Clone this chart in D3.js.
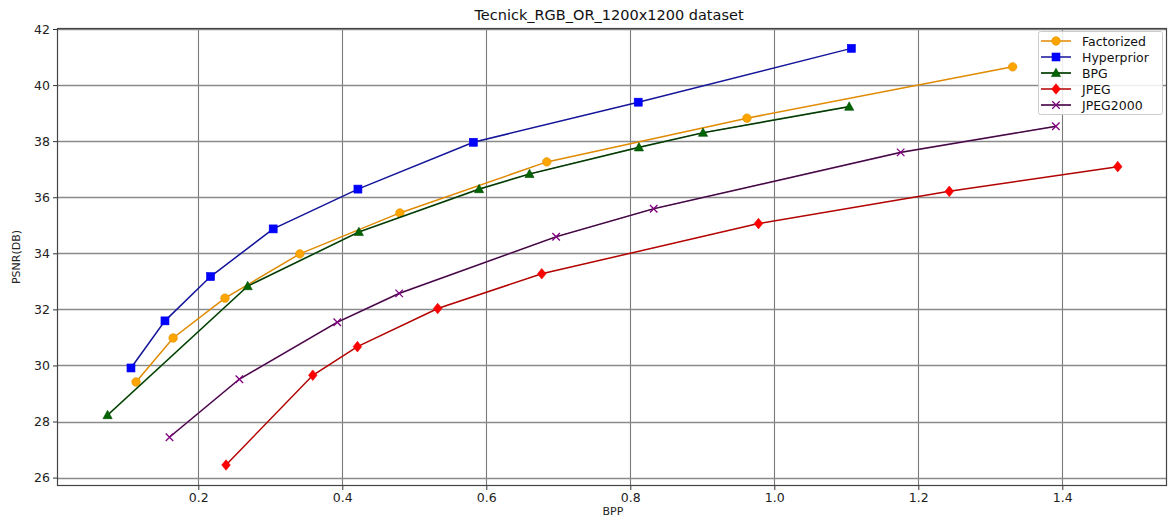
<!DOCTYPE html>
<html>
<head>
<meta charset="utf-8">
<script src="https://cdn.jsdelivr.net/npm/d3@7"></script>
<style>
  html, body { margin: 0; padding: 0; background: #fff; }
  svg { display: block; font-family: "DejaVu Sans", sans-serif; }
</style>
</head>
<body>
<svg id="chart" width="1169" height="518"></svg>
<script>
// Rate–distortion results on Tecnick (bits per pixel vs PSNR)
const factorizedBpp  = [0.1135, 0.165, 0.237, 0.341, 0.480, 0.684, 0.962, 1.331];
const factorizedPsnr = [29.41, 30.98, 32.40, 33.98, 35.44, 37.26, 38.82, 40.65];

const hyperpriorBpp  = [0.1065, 0.1537, 0.217, 0.304, 0.4217, 0.582, 0.811, 1.107];
const hyperpriorPsnr = [29.91, 31.59, 33.17, 34.87, 36.29, 37.96, 39.39, 41.31];

const bpgBpp  = [0.074, 0.2686, 0.423, 0.590, 0.660, 0.812, 0.901, 1.104];
const bpgPsnr = [28.23, 32.83, 34.76, 36.29, 36.83, 37.78, 38.30, 39.23];

const jpegBpp  = [0.2385, 0.359, 0.421, 0.5325, 0.677, 0.978, 1.243, 1.477];
const jpegPsnr = [26.45, 29.65, 30.67, 32.03, 33.27, 35.06, 36.21, 37.09];

const jpeg2000Bpp  = [0.160, 0.257, 0.393, 0.479, 0.697, 0.8325, 1.1755, 1.391];
const jpeg2000Psnr = [27.44, 29.51, 31.54, 32.57, 34.59, 35.59, 37.60, 38.53];

const xTicks = [0.2, 0.4, 0.6, 0.8, 1.0, 1.2, 1.4];
const yTicks = [26, 28, 30, 32, 34, 36, 38, 40, 42];

const series = [
  { name: "Factorized", x: factorizedBpp, y: factorizedPsnr, line: "#e08a00", under: null, marker: "circle", fill: "#ffa500", edge: "#e69500" },
  { name: "Hyperprior", x: hyperpriorBpp, y: hyperpriorPsnr, line: "#14149a", under: null, marker: "square", fill: "#0000ff", edge: "#0000ee" },
  { name: "BPG", x: bpgBpp, y: bpgPsnr, line: "#0a1a0a", under: "#1f7a1f", marker: "triangle", fill: "#006400", edge: "#004d00" },
  { name: "JPEG", x: jpegBpp, y: jpegPsnr, line: "#b30000", under: null, marker: "diamond", fill: "#ff0000", edge: "#ee0000" },
  { name: "JPEG2000", x: jpeg2000Bpp, y: jpeg2000Psnr, line: "#1a061a", under: "#9a3a9a", marker: "x", fill: "none", edge: "#800080" }
];

const svg = d3.select("#chart");
const L = 57, R = 1167, T = 28, B = 486;

const x = d3.scaleLinear().domain([0.00375, 1.5454]).range([L, R]);
const y = d3.scaleLinear().domain([25.70, 42.036]).range([B, T]);

// title
svg.append("text")
  .attr("x", (L + R) / 2 - 3).attr("y", 20)
  .attr("text-anchor", "middle")
  .attr("font-size", 14.5).attr("fill", "#111")
  .text("Tecnick_RGB_OR_1200x1200 dataset");

// grid
const grid = svg.append("g");
grid.selectAll("line.vx").data(xTicks).join("line")
  .attr("x1", d => Math.round(x(d)) + 0.5).attr("x2", d => Math.round(x(d)) + 0.5)
  .attr("y1", T).attr("y2", B)
  .attr("stroke", "#7a7a7a").attr("stroke-width", 1.1);
grid.selectAll("line.hy").data(yTicks).join("line")
  .attr("y1", d => Math.round(y(d)) + 0.5).attr("y2", d => Math.round(y(d)) + 0.5)
  .attr("x1", L).attr("x2", R)
  .attr("stroke", "#8a8a8a").attr("stroke-width", 1.3);

// axes
const xAxis = d3.axisBottom(x).tickValues(xTicks).tickFormat(d3.format(".1f")).tickSize(4).tickPadding(3);
const yAxis = d3.axisLeft(y).tickValues(yTicks).tickFormat(d3.format("d")).tickSize(4).tickPadding(3);

const gx = svg.append("g").attr("transform", `translate(0,${B})`).call(xAxis);
const gy = svg.append("g").attr("transform", `translate(${L},0)`).call(yAxis);
[gx, gy].forEach(g => {
  g.select(".domain").remove();
  g.selectAll("line").attr("stroke", "#333");
  g.selectAll("text").attr("font-size", 12.5).attr("fill", "#222")
    .attr("font-family", "DejaVu Sans, sans-serif");
});

// frame
svg.append("rect")
  .attr("x", L + 0.5).attr("y", T + 0.5)
  .attr("width", R - L - 1).attr("height", B - T - 1)
  .attr("fill", "none").attr("stroke", "#444").attr("stroke-width", 1.2);

// axis labels
svg.append("text")
  .attr("x", 613).attr("y", 515)
  .attr("text-anchor", "middle").attr("font-size", 11).attr("fill", "#222")
  .text("BPP");
svg.append("text")
  .attr("transform", `translate(20,${(T + B) / 2}) rotate(-90)`)
  .attr("text-anchor", "middle").attr("font-size", 11).attr("fill", "#222")
  .text("PSNR(DB)");

function drawMarker(g, kind, cx, cy, s) {
  const size = 7.5;
  if (kind === "circle") {
    g.append("circle").attr("cx", cx).attr("cy", cy).attr("r", 4.2)
      .attr("fill", s.fill).attr("stroke", s.edge).attr("stroke-width", 0.8);
  } else if (kind === "square") {
    g.append("rect").attr("x", cx - 4).attr("y", cy - 4).attr("width", 8).attr("height", 8)
      .attr("fill", s.fill).attr("stroke", s.edge).attr("stroke-width", 0.6);
  } else if (kind === "triangle") {
    g.append("path").attr("d", `M${cx},${cy - 4.8}L${cx + 4.6},${cy + 3.6}L${cx - 4.6},${cy + 3.6}Z`)
      .attr("fill", s.fill).attr("stroke", s.edge).attr("stroke-width", 0.6);
  } else if (kind === "diamond") {
    g.append("path").attr("d", `M${cx},${cy - 5.3}L${cx + 4.3},${cy}L${cx},${cy + 5.3}L${cx - 4.3},${cy}Z`)
      .attr("fill", s.fill).attr("stroke", s.edge).attr("stroke-width", 0.6);
  } else if (kind === "x") {
    const h = size / 2;
    g.append("path").attr("d", `M${cx - h},${cy - h}L${cx + h},${cy + h}M${cx - h},${cy + h}L${cx + h},${cy - h}`)
      .attr("fill", "none").attr("stroke", s.edge).attr("stroke-width", 1.3);
  }
}

const line = d3.line().x(d => x(d[0])).y(d => y(d[1]));
const plot = svg.append("g");

series.forEach(s => {
  const pts = s.x.map((v, i) => [v, s.y[i]]);
  const g = plot.append("g");
  if (s.under) {
    g.append("path").attr("d", line(pts)).attr("fill", "none")
      .attr("stroke", s.under).attr("stroke-width", 1.7);
  }
  g.append("path").attr("d", line(pts)).attr("fill", "none")
    .attr("stroke", s.line).attr("stroke-width", s.under ? 0.9 : 1.5);
  pts.forEach(p => drawMarker(g, s.marker, x(p[0]), y(p[1]), s));
});

// legend
const lg = svg.append("g");
lg.append("rect")
  .attr("x", 1038.5).attr("y", 31.5).attr("width", 124).attr("height", 83).attr("rx", 2)
  .attr("fill", "#fff").attr("fill-opacity", 0.85)
  .attr("stroke", "#ccc").attr("stroke-width", 1);
series.forEach((s, i) => {
  const cy = 41 + i * 16;
  const g = lg.append("g");
  if (s.under) {
    g.append("line").attr("x1", 1041).attr("x2", 1071).attr("y1", cy).attr("y2", cy)
      .attr("stroke", s.under).attr("stroke-width", 1.7);
  }
  g.append("line").attr("x1", 1041).attr("x2", 1071).attr("y1", cy).attr("y2", cy)
    .attr("stroke", s.line).attr("stroke-width", s.under ? 0.9 : 1.5);
  drawMarker(g, s.marker, 1056, cy, s);
  g.append("text").attr("x", 1082).attr("y", cy + 4.5)
    .attr("font-size", 12.5).attr("fill", "#111").text(s.name);
});
</script>
</body>
</html>
